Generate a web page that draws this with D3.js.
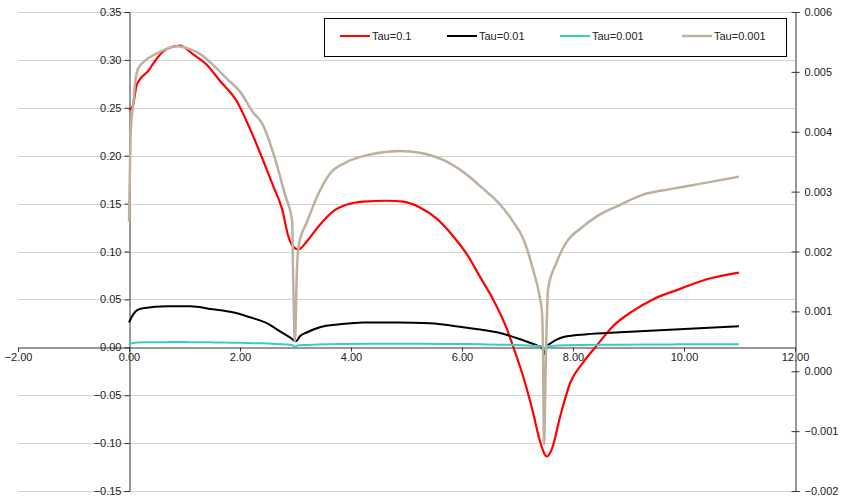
<!DOCTYPE html>
<html>
<head>
<meta charset="utf-8">
<script src="https://cdn.jsdelivr.net/npm/d3@7"></script>
<style>
  html, body { margin: 0; padding: 0; background: #ffffff; }
  svg { display: block; }
  text { font-family: Arial, "Liberation Sans", sans-serif; font-size: 11px; fill: #222; }
</style>
</head>
<body>
<svg id="chart" width="841" height="498"></svg>
<script>
// ---------- data ----------
const xTicks = [-2, 0, 2, 4, 6, 8, 10, 12];
const leftTicks = [-0.15, -0.10, -0.05, 0.00, 0.05, 0.10, 0.15, 0.20, 0.25, 0.30, 0.35];
const rightTicks = [-0.002, -0.001, 0.000, 0.001, 0.002, 0.003, 0.004, 0.005, 0.006];
const seriesNames = ["Tau=0.1", "Tau=0.01", "Tau=0.001", "Tau=0.001"];
const seriesColors = ["#ff0000", "#000000", "#33cccc", "#bdb09f"];

// Tau=0.1 (left axis)
const tau01 = [
  [0, 0.248], [0.07, 0.252], [0.13, 0.272], [0.2, 0.28], [0.34, 0.288], [0.47, 0.299],
  [0.6, 0.308], [0.7, 0.312], [0.92, 0.315], [1.15, 0.306], [1.4, 0.295], [1.64, 0.278],
  [1.95, 0.256], [2.18, 0.228], [2.41, 0.196], [2.6, 0.168], [2.76, 0.144], [2.87, 0.116],
  [2.96, 0.105], [3.05, 0.102], [3.21, 0.111], [3.44, 0.128], [3.68, 0.142], [3.93, 0.149],
  [4.22, 0.152], [4.65, 0.153], [4.94, 0.152], [5.24, 0.146], [5.55, 0.134], [5.84, 0.116],
  [6.09, 0.097], [6.32, 0.074], [6.56, 0.05], [6.81, 0.019], [6.92, 0.001], [7.1, -0.03],
  [7.28, -0.068], [7.41, -0.099], [7.53, -0.114], [7.62, -0.106], [7.77, -0.072],
  [7.95, -0.037], [8.18, -0.016], [8.43, 0.002], [8.72, 0.022], [9.08, 0.038],
  [9.44, 0.05], [9.93, 0.061], [10.41, 0.071], [10.99, 0.078]
];

// Tau=0.01 (left axis)
const tau001 = [
  [0, 0.026], [0.05, 0.032], [0.14, 0.0386], [0.25, 0.0407], [0.69, 0.0428], [1.1, 0.0428],
  [1.51, 0.0397], [1.87, 0.0365], [2.18, 0.0313], [2.49, 0.025], [2.72, 0.0167], [2.9, 0.0104],
  [3.01, 0.0063], [3.08, 0.0115], [3.21, 0.0157], [3.44, 0.0209], [3.8, 0.024], [4.22, 0.026],
  [4.83, 0.026], [5.42, 0.025], [6.02, 0.0209], [6.63, 0.0157], [7.05, 0.0084], [7.35, 0.002],
  [7.44, 0.0], [7.48, -0.007], [7.52, 0.0], [7.62, 0.005], [7.89, 0.0115], [8.25, 0.0136],
  [8.85, 0.0157], [10.99, 0.022]
];

// Tau=0.001 (drawn on the left axis in cyan and on the right axis in grey)
const tau0001 = [
  [0, 0.0025], [0.036, 0.00408], [0.072, 0.00442], [0.108, 0.0048], [0.162, 0.00505],
  [0.306, 0.0052], [0.486, 0.0053], [0.667, 0.00538], [0.865, 0.00543], [1.1, 0.00538],
  [1.28, 0.0053], [1.51, 0.00512], [1.77, 0.00488], [2.0, 0.00467], [2.23, 0.00433],
  [2.41, 0.00412], [2.63, 0.00355], [2.81, 0.00295], [2.94, 0.0025], [2.955, 0.00172],
  [2.99, 0.0005], [3.027, 0.00172], [3.063, 0.00212], [3.21, 0.0025], [3.39, 0.00292],
  [3.62, 0.0033], [3.89, 0.00348], [4.34, 0.00362], [4.88, 0.00368], [5.24, 0.00365],
  [5.66, 0.00353], [6.02, 0.00333], [6.38, 0.00305], [6.69, 0.00278], [6.92, 0.0025],
  [7.1, 0.00222], [7.28, 0.0017], [7.405, 0.00122], [7.44, 0.001], [7.46, 0.00033],
  [7.477, -0.00122], [7.514, 0.00033], [7.55, 0.00137], [7.71, 0.00183], [7.89, 0.00217],
  [8.13, 0.00238], [8.45, 0.0026], [8.85, 0.00278], [9.26, 0.00295], [9.8, 0.00305],
  [10.41, 0.00315], [10.99, 0.00325]
];

// ---------- layout ----------
const svg = d3.select("#chart");
const x = d3.scaleLinear().domain([-2, 12]).range([18, 795]);
const yL = d3.scaleLinear().domain([-0.15, 0.35]).range([491, 12]);
const yR = d3.scaleLinear().domain([-0.002, 0.006]).range([491, 12]);

// gridlines
svg.append("g").selectAll("line").data(leftTicks.filter(d => Math.abs(d) > 1e-9)).join("line")
  .attr("x1", x(-2)).attr("x2", x(12))
  .attr("y1", d => Math.round(yL(d)) + 0.5).attr("y2", d => Math.round(yL(d)) + 0.5)
  .attr("stroke", "#d4d4d4").attr("stroke-width", 1);

// x axis at y = 0 of left axis
const xAxis = d3.axisBottom(x).tickValues(xTicks).tickFormat(d3.format(".2f")).tickSize(4).tickPadding(2);
const gx = svg.append("g").attr("transform", `translate(0,${Math.round(yL(0)) + 0.5})`).call(xAxis);
gx.select(".domain").attr("stroke", "#333");
gx.selectAll(".tick line").attr("stroke", "#333");
gx.selectAll(".tick text").attr("fill", "#222").style("font-size", "11px")
  .style("font-family", "Arial, 'Liberation Sans', sans-serif");

// left axis at x = 0
const leftAxis = d3.axisLeft(yL).tickValues(leftTicks).tickFormat(d3.format(".2f")).tickSize(5).tickPadding(3);
const gl = svg.append("g").attr("transform", `translate(${Math.round(x(0)) + 0.5},0)`).call(leftAxis);
gl.select(".domain").attr("stroke", "#333");
gl.selectAll(".tick line").attr("stroke", "#333");
gl.selectAll(".tick text").attr("fill", "#222").style("font-size", "11px")
  .style("font-family", "Arial, 'Liberation Sans', sans-serif");

// right axis
const rightAxis = d3.axisRight(yR).tickValues(rightTicks).tickFormat(d3.format(".3f")).tickSize(4).tickPadding(5);
const gr = svg.append("g").attr("transform", `translate(${Math.round(x(12)) + 0.5},0)`).call(rightAxis);
gr.select(".domain").attr("stroke", "#333");
gr.selectAll(".tick line").attr("stroke", "#333").attr("x1", -4);
gr.selectAll(".tick text").attr("fill", "#222").style("font-size", "11px")
  .style("font-family", "Arial, 'Liberation Sans', sans-serif");

// series lines
const lineL = d3.line().x(d => x(d[0])).y(d => yL(d[1])).curve(d3.curveMonotoneX);
const lineR = d3.line().x(d => x(d[0])).y(d => yR(d[1])).curve(d3.curveMonotoneX);

const plots = [
  { data: tau01, gen: lineL, color: seriesColors[0], w: 2.2 },
  { data: tau001, gen: lineL, color: seriesColors[1], w: 2.0 },
  { data: tau0001, gen: lineL, color: seriesColors[2], w: 2.0 },
  { data: tau0001, gen: lineR, color: seriesColors[3], w: 2.5 }
];
svg.append("g").selectAll("path").data(plots).join("path")
  .attr("d", p => p.gen(p.data))
  .attr("fill", "none")
  .attr("stroke", p => p.color)
  .attr("stroke-width", p => p.w)
  .attr("stroke-linejoin", "round");

// legend
const lg = svg.append("g");
lg.append("rect").attr("x", 324.5).attr("y", 18.5).attr("width", 462).attr("height", 38)
  .attr("fill", "#fff").attr("stroke", "#000").attr("stroke-width", 1);
const legendX = [340, 447, 560, 682];
const items = lg.selectAll("g.item").data(seriesNames).join("g").attr("class", "item")
  .attr("transform", (d, i) => `translate(${legendX[i]},36)`);
items.append("line").attr("x1", 0).attr("x2", 30).attr("y1", 0).attr("y2", 0)
  .attr("stroke", (d, i) => seriesColors[i]).attr("stroke-width", (d, i) => i === 3 ? 2.5 : 2);
items.append("text").attr("x", 32).attr("y", 4).text(d => d);
</script>
</body>
</html>
